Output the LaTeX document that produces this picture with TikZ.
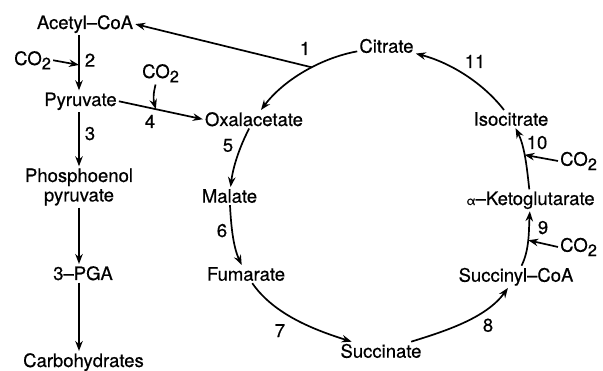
\documentclass[tikz,border=0pt]{standalone}
\usepackage{fontspec}
\setmainfont[FakeBold=0.5]{TeX Gyre Heros}
\usetikzlibrary{arrows.meta}
\newcommand{\cotwo}{CO\raisebox{-0.45ex}{\fontsize{16.5}{16.5}\selectfont 2}}
\begin{document}
\begin{tikzpicture}[x=1pt,y=1pt,
  every node/.style={font=\fontsize{18.5}{19.5}\selectfont, inner sep=2pt},
  met/.style={anchor=base},
  lbl/.style={anchor=base},
  gas/.style={anchor=base west},
  arr/.style={line width=1.7pt, -{Stealth[length=10pt,width=7.5pt]}},
  cyc/.style={arr, looseness=0.85}]
\useasboundingbox (0,0) rectangle (603,370);
% left branch
\node[met] (acetyl) at (85,341) {Acetyl--CoA};
\node[gas] (co2l) at (12,305) {\cotwo};
\node[met] (pyr) at (80.5,264) {Pyruvate};
\node[align=center] (pep) at (79,183) {Phosphoenol\\pyruvate};
\node[met] (pga) at (83,90) {3--PGA};
\node[met] (carb) at (83.5,3) {Carbohydrates};
\node[gas] (co2m) at (140,292) {\cotwo};
% cycle
\node[met] (oxal) at (254,244) {Oxalacetate};
\node[met] (citrate) at (386.5,317.3) {Citrate};
\node[met] (iso) at (511,244.3) {Isocitrate};
\node[gas] (co2u) at (558,204.3) {\cotwo};
\node[met] (akg) at (530.5,165) {{\fontsize{12}{12}\selectfont α}--Ketoglutarate};
\node[gas] (co2d) at (558,118.3) {\cotwo};
\node[met] (succoa) at (516,88.3) {Succinyl--CoA};
\node[met] (succ) at (381,12.3) {Succinate};
\node[met] (malate) at (229.5,167.3) {Malate};
\node[met] (fum) at (246,89.3) {Fumarate};
% step labels
\node[lbl] (l1) at (305,315) {1};
\node[lbl] (l2) at (90,303.3) {2};
\node[lbl] (l3) at (90,230) {3};
\node[lbl] (l4) at (150,242) {4};
\node[lbl] (l5) at (228,218.3) {5};
\node[lbl] (l6) at (222,133) {6};
\node[lbl] (l7) at (280,33) {7};
\node[lbl] (l8) at (488,38.3) {8};
\node[lbl] (l9) at (543,136) {9};
\node[lbl] (l10) at (537,221) {10};
\node[lbl] (l11) at (475,302) {11};
% cycle arcs
\draw[cyc] (citrate) to[out=190.8,in=53.1] coordinate[pos=0.42] (p1) (oxal);
\draw[cyc] (oxal) to[out=242.6,in=83.2] (malate);
\draw[cyc] (malate) to[out=273,in=115.4] (fum);
\draw[cyc] (fum) to[out=304.8,in=162.8] (succ);
\draw[cyc] (succ) to[out=17.2,in=234.2] (succoa);
\draw[cyc] (succoa) to[out=63.8,in=266.9] coordinate[pos=0.48] (p9) (akg);
\draw[cyc] (akg) to[out=96.5,in=296.9] coordinate[pos=0.55] (p10) (iso);
\draw[cyc] (iso) to[out=127.8,in=345.8] (citrate);
% left branch arrows
\draw[arr] (acetyl.south -| pep.north) -- coordinate[pos=0.54] (p2) (pyr.north -| pep.north);
\draw[arr] (co2l.east) -- (p2);
\draw[arr] (pyr.south -| pep.north) -- (pep.north);
\draw[arr] (pep.south) -- (pga.north -| pep.south);
\draw[arr] (pga.south -| pep.south) -- (carb.north -| pep.south);
\draw[arr] (pyr.east) -- coordinate[pos=0.44] (p4) (oxal.west);
\draw[arr] ([xshift=-5pt]co2m.south) to[bend right=15] (p4);
\draw[arr] (p1) -- (acetyl.east);
\draw[arr] (co2u.west) -- (p10);
\draw[arr] (co2d.west) -- (p9);
\end{tikzpicture}
\end{document}
